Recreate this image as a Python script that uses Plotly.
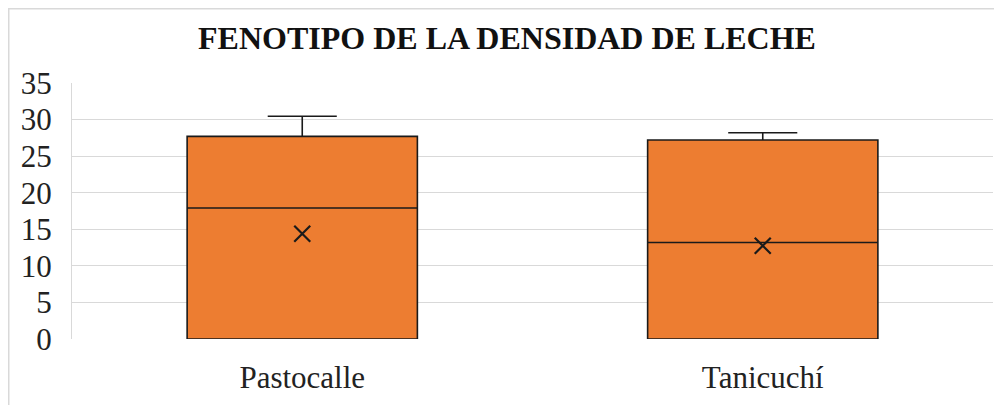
import plotly.graph_objects as go

categories = ["Pastocalle", "Tanicuchí"]
q1 = [0, 0]
medians = [17.9, 13.2]
q3 = [27.7, 27.2]
lower_fence = [0, 0]
upper_fence = [30.45, 28.2]
means = [14.4, 12.75]
y_ticks = [0, 5, 10, 15, 20, 25, 30, 35]

# page body has an 8px margin, so the figure is offset by (8, 8)
W, H = 994, 397
L, R, T, B = 64, 9, 75, 66
pw, ph = W - L - R, H - T - B

fig = go.Figure()
fig.add_trace(go.Box(
    x=categories, q1=q1, median=medians, q3=q3,
    lowerfence=lower_fence, upperfence=upper_fence,
    fillcolor="#ED7D31", line=dict(color="#1a1a1a", width=1.6),
    width=0.5, whiskerwidth=0.3, boxpoints=False, showlegend=False,
    hoverinfo="skip",
))
fig.add_trace(go.Scatter(
    x=categories, y=means, mode="markers",
    marker=dict(symbol="x-thin", size=16, line=dict(color="#1a1a1a", width=2.2)),
    showlegend=False, hoverinfo="skip",
))

fig.update_layout(
    width=W, height=H,
    margin=dict(l=L, r=R, t=T, b=B, autoexpand=False),
    paper_bgcolor="white", plot_bgcolor="white",
    font=dict(family="Liberation Serif, Times New Roman, serif", color="#222222"),
    title=dict(text="<b>FENOTIPO DE LA DENSIDAD DE LECHE</b>",
               font=dict(size=32, color="#111111"),
               x=499 / W, xanchor="center", y=1 - 30 / H, yanchor="middle"),
    xaxis=dict(type="category", range=[-0.5, 1.5], autorange=False,
               showgrid=False, zeroline=False, showline=False, automargin=False,
               tickfont=dict(size=31), ticks="", ticklabelstandoff=17),
    yaxis=dict(range=[0, 35], autorange=False, tickvals=y_ticks, showgrid=True,
               gridcolor="#D9D9D9", gridwidth=1.3, zeroline=False, showline=True,
               linecolor="#D9D9D9", linewidth=1.3, automargin=False,
               tickfont=dict(size=31), ticks="", ticklabelstandoff=13),
    shapes=[dict(type="rect", xref="paper", yref="paper",
                 x0=(0.75 - L) / pw, x1=(W + 20 - L) / pw,
                 y0=-(H + 20 - (T + ph)) / ph, y1=(T + ph - 0.75) / ph,
                 line=dict(color="#D9D9D9", width=1.5), fillcolor="rgba(0,0,0,0)",
                 layer="below")],
)

fig.write_html("out.html")
